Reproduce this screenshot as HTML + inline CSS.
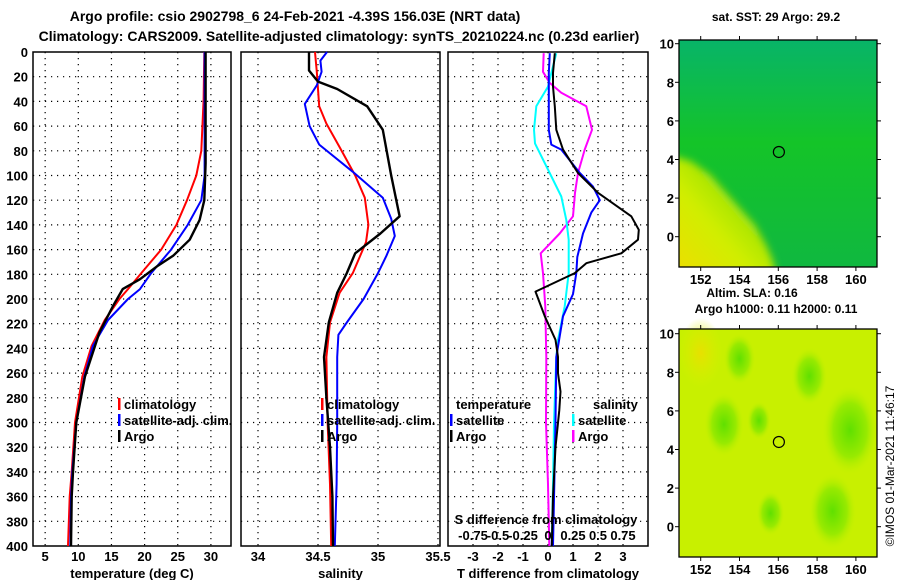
<!DOCTYPE html>
<html><head><meta charset="utf-8"><style>
body{margin:0;background:#fff}
svg{display:block;font-family:"Liberation Sans",sans-serif;font-weight:bold}
text{fill:#000}
</style></head><body>
<svg id="c" width="900" height="580" viewBox="0 0 900 580" xmlns="http://www.w3.org/2000/svg">
<defs>
<linearGradient id="m1base" x1="0" y1="0" x2="0" y2="1"><stop offset="0" stop-color="#08b468"/><stop offset="0.45" stop-color="#14c428"/><stop offset="1" stop-color="#10b840"/></linearGradient>
<linearGradient id="m1yel" x1="0" y1="1" x2="1" y2="0"><stop offset="0" stop-color="#f0dc00"/><stop offset="0.4" stop-color="#d0ee00"/><stop offset="0.8" stop-color="#80dc10"/><stop offset="1" stop-color="#40cc20"/></linearGradient>
<filter id="bl" x="-20%" y="-20%" width="140%" height="140%"><feGaussianBlur stdDeviation="4"/></filter>
<clipPath id="clip1"><rect x="679" y="40" width="198" height="227"/></clipPath>
<radialGradient id="blob"><stop offset="0" stop-color="#60e000"/><stop offset="0.6" stop-color="#98ea00"/><stop offset="1" stop-color="#c4f000" stop-opacity="0"/></radialGradient>
<radialGradient id="orng"><stop offset="0" stop-color="#e8e000"/><stop offset="1" stop-color="#d8f000" stop-opacity="0"/></radialGradient>
</defs>
<text x="295" y="21" font-size="14" text-anchor="middle">Argo profile: csio 2902798_6 24-Feb-2021 -4.39S 156.03E (NRT data)</text>
<text x="339" y="41" font-size="14" text-anchor="middle">Climatology: CARS2009. Satellite-adjusted climatology: synTS_20210224.nc (0.23d earlier)</text>
<g id="panels"></g>
<g id="maps"></g>
<text transform="translate(894,466) rotate(-90)" font-size="12" font-weight="normal" text-anchor="middle">©IMOS 01-Mar-2021 11:46:17</text>
</svg>
<script>
// ---- data (depth in m) ----
const tempDepth = [0,39,80,100,120,140,160,179,192,200,217,238,263,300,340,360,400];
const tempClim  = [29.0,28.9,28.55,27.8,26.4,24.8,22.5,19.5,17.5,16.2,14.0,12.0,10.6,9.5,9.0,8.7,8.45];
const tempSat   = [29.05,29.05,29.05,29.05,28.55,26.5,24.0,21.0,19.3,17.5,14.5,12.2,10.9,9.7,9.1,8.9,8.8];
const argoTDepth = [0,90,120,136,152,165,173,184,192,206,227,263,300,340,360,400];
const tempArgo  = [29.2,29.2,29.0,28.3,26.8,24.3,22.0,19.3,16.7,15.2,13.2,11.0,9.7,9.2,9.0,8.9];

const salClimDepth = [0,16,44,58,77,100,118,140,154,179,195,219,247,300,350,400];
const salClim = [34.475,34.49,34.51,34.57,34.68,34.81,34.89,34.92,34.90,34.79,34.68,34.60,34.57,34.58,34.60,34.61];
const salSatDepth = [0,7,16,27,42,60,75,97,118,135,149,165,179,200,219,229,247,300,350,400];
const salSat = [34.575,34.52,34.53,34.49,34.39,34.43,34.51,34.79,35.04,35.11,35.14,35.07,35.00,34.88,34.74,34.67,34.66,34.66,34.655,34.64];
const salArgoDepth = [0,15,24,30,44,63,100,133,147,163,179,195,219,247,280,320,360,400];
const salArgo = [34.425,34.425,34.50,34.66,34.91,35.04,35.11,35.18,35.02,34.81,34.74,34.66,34.59,34.55,34.57,34.60,34.62,34.625];

const diffDepth = [1,17,28,44,63,79,98,114,133,144,152,163,171,179,194,214,233,247,260,275,290,320,360,400];
const dTArgo = [0.27,0.2,0.2,0.27,0.33,0.6,1.2,2.0,3.33,3.63,3.6,2.93,1.53,1.07,-0.5,-0.13,0.3,0.4,0.4,0.5,0.45,0.3,0.2,0.15];
const dTSatDepth = [1,17,44,63,75,79,98,109,120,130,147,166,179,196,214,247,300,350,400];
const dTSat = [0.07,0.03,0.03,0.03,0.13,0.53,1.27,1.8,2.07,1.73,1.4,1.17,1.13,1.0,0.6,0.33,0.3,0.25,0.2];
const dSSatDepth = [1,17,28,44,63,74,98,117,136,152,179,206,233,247,300,350,400];
const dSSat = [0.083,0.033,0.0,-0.117,-0.14,-0.13,0.017,0.133,0.183,0.207,0.207,0.167,0.1,0.083,0.06,0.05,0.037];
const dSArgoDepth = [1,16,25,33,44,63,79,98,114,133,147,163,179,206,247,300,350,400];
const dSArgo = [-0.043,-0.05,0.017,0.133,0.383,0.44,0.367,0.3,0.27,0.25,0.117,-0.073,-0.05,-0.027,-0.017,-0.02,0.0,0.013];

const depthTicks = [0,20,40,60,80,100,120,140,160,180,200,220,240,260,280,300,320,340,360,380,400];
const tTicks = [5,10,15,20,25,30];
const sTicks = [34,34.5,35,35.5];
const dTicks = [-3,-2,-1,0,1,2,3];
const sDiffLabels = ['-0.75','-0.5','-0.25','0','0.25','0.5','0.75'];

const NS='http://www.w3.org/2000/svg';
function mk(tag,attrs,parent){const e=document.createElementNS(NS,tag);for(const k in attrs)e.setAttribute(k,attrs[k]);parent.appendChild(e);return e;}
const top0=52, bot0=546;
const yS = d => top0 + d*(bot0-top0)/400;
const panels=document.getElementById('panels');

function panel(name,x0,x1,xs,xticks,xlabels,xtitle){
  const g=mk('g',{},panels);
  
  
  depthTicks.forEach(d=>{ if(d>0&&d<400){const l=mk('line',{x1:x0,x2:x1,y1:yS(d),y2:yS(d),stroke:'#000','stroke-width':1.2,'stroke-dasharray':'1.2 4.8'},g);
    
    }});
  xticks.forEach((t,i)=>{const x=xs(t);
    if(x>x0+1&&x<x1-1){const l=mk('line',{x1:x,x2:x,y1:top0,y2:bot0,stroke:'#000','stroke-width':1.2,'stroke-dasharray':'1.2 4.8'},g);
      
      }
    const tx=mk('text',{x:x,y:561,'font-size':13,'text-anchor':'middle'},g);tx.textContent=xlabels[i];
    
    
  });
  const t=mk('text',{x:(x0+x1)/2,y:578,'font-size':13,'text-anchor':'middle'},g);t.textContent=xtitle;
  
  
  const r=mk('rect',{x:x0,y:top0,width:x1-x0,height:bot0-top0,fill:'none',stroke:'#000','stroke-width':1.5},g);
  
  
  return g;
}
function line(g,name,xs,vals,depths,color,w){
  const p=vals.map((v,i)=>(i?'L':'M')+xs(v).toFixed(1)+' '+yS(depths[i]).toFixed(1)).join(' ');
  const e=mk('path',{d:p,fill:'none',stroke:color,'stroke-width':w,'stroke-linejoin':'round'},g);
  
  
}
function legend(g,x,y,color,label,name){
  if(color){const b=mk('rect',{x:x-6,y:y-6,width:2.5,height:12,fill:color},g);
    
    }
  const t=mk('text',{x:x,y:y+5,'font-size':13},g);t.textContent=label;
  
  
}
const yg=mk('g',{},panels);


depthTicks.forEach(d=>{const t=mk('text',{x:28,y:yS(d)+5,'font-size':13,'text-anchor':'end'},yg);t.textContent=d;
  
  });

const xT = v => 12 + 6.63*v;
const g1=panel('temperature-panel',33,231,xT,tTicks,tTicks.map(String),'temperature (deg C)');
line(g1,'temp-climatology-line',xT,tempClim,tempDepth,'#f00',2);
line(g1,'temp-satellite-line',xT,tempSat,tempDepth,'#00f',2);
line(g1,'temp-argo-line',xT,tempArgo,argoTDepth,'#000',2.4);
legend(g1,124,404,'#f00','climatology','legend-climatology');
legend(g1,124,420,'#00f','satellite-adj. clim.','legend-satellite');
legend(g1,124,436,'#000','Argo','legend-argo');

const xS = v => 258 + 120*(v-34);
const g2=panel('salinity-panel',241,440,xS,sTicks,['34','34.5','35','35.5'],'salinity');
line(g2,'sal-climatology-line',xS,salClim,salClimDepth,'#f00',2);
line(g2,'sal-satellite-line',xS,salSat,salSatDepth,'#00f',2);
line(g2,'sal-argo-line',xS,salArgo,salArgoDepth,'#000',2.4);
legend(g2,327,404,'#f00','climatology','legend-climatology');
legend(g2,327,420,'#00f','satellite-adj. clim.','legend-satellite');
legend(g2,327,436,'#000','Argo','legend-argo');

const xD = v => 548 + 25*v;
const xDS = v => 548 + 100*v;
const g3=panel('difference-panel',448,648,xD,dTicks,dTicks.map(String),'T difference from climatology');
line(g3,'salt-diff-argo-line',xDS,dSArgo,dSArgoDepth,'#f0f',2);
line(g3,'salt-diff-satellite-line',xDS,dSSat,dSSatDepth,'#0ff',2);
line(g3,'temp-diff-satellite-line',xD,dTSat,dTSatDepth,'#00f',2);
line(g3,'temp-diff-argo-line',xD,dTArgo,diffDepth,'#000',2);
legend(g3,456,404,null,'temperature','legend-temperature-heading');
legend(g3,456,420,'#00f','satellite','legend-temp-satellite');
legend(g3,456,436,'#000','Argo','legend-temp-argo');
legend(g3,593,404,null,'salinity','legend-salinity-heading');
legend(g3,578,420,'#0ff','satellite','legend-sal-satellite');
legend(g3,578,436,'#f0f','Argo','legend-sal-argo');
const st=mk('text',{x:546,y:524,'font-size':13,'text-anchor':'middle'},g3);st.textContent='S difference from climatology';


sDiffLabels.forEach((s,i)=>{const t=mk('text',{x:473+25*i,y:540,'font-size':13,'text-anchor':'middle'},g3);t.textContent=s;
  
  });

// ---- maps ----
const lonTicks=[152,154,156,158,160];
const latTicks=[0,2,4,6,8,10];
const argoLon=156.03, argoLat=4.39;
const warmLon=[150.5,151.5,152.5,153.2,154,154.8,155.4,155.7,155.9,150.5];
const warmLat=[4.2,3.9,3.2,2.4,1.5,0.6,-0.5,-1.2,-2,-2];
const maps=document.getElementById('maps');
function map(name,top,bottom,kind){
  const g=mk('g',{},maps);
  
  
  const x0=679,x1=877;
  const lx=v=>700.7+19.4*(v-152);
  const lyy=v=>(bottom-30.3) - 19.3*v;
  const bg=mk('rect',{x:x0,y:top,width:x1-x0,height:bottom-top,fill:kind==1?'url(#m1base)':'#c8f000'},g);
  
  
  if(kind==1){
    const cg=mk('g',{'clip-path':'url(#clip1)'},g);
    const pts=warmLon.map((v,i)=>lx(v).toFixed(1)+','+lyy(warmLat[i]).toFixed(1)).join(' ');
    const y=mk('polygon',{points:pts,fill:'url(#m1yel)',filter:'url(#bl)'},cg);
    
    
  } else {
    [[152,9,22,'url(#orng)'],[154,8.7,16,'url(#blob)'],[153.2,5.3,20,'url(#blob)'],[157.6,7.8,18,'url(#blob)'],[159.7,5,28,'url(#blob)'],[155.6,0.7,14,'url(#blob)'],[158.8,0.8,24,'url(#blob)'],[155,5.5,12,'url(#blob)']].forEach(b=>{
      const e=mk('ellipse',{cx:lx(b[0]),cy:lyy(b[1]),rx:b[2],ry:b[2]*1.6,fill:b[3]},g);
      
      
    });
  }
  const fr=mk('rect',{x:x0,y:top,width:x1-x0,height:bottom-top,fill:'none',stroke:'#000','stroke-width':1.3},g);
  
  
  lonTicks.forEach(v=>{const x=lx(v);
    mk('line',{x1:x,x2:x,y1:top,y2:top-4,stroke:'#000'},g);mk('line',{x1:x,x2:x,y1:bottom,y2:bottom+4,stroke:'#000'},g);
    const t=mk('text',{x:x,y:bottom+17,'font-size':13,'text-anchor':'middle'},g);t.textContent=v;
    
    });
  latTicks.forEach(v=>{const y=lyy(v);
    mk('line',{x1:x0,x2:x0-4,y1:y,y2:y,stroke:'#000'},g);mk('line',{x1:x1,x2:x1+4,y1:y,y2:y,stroke:'#000'},g);
    const t=mk('text',{x:674,y:y+5,'font-size':13,'text-anchor':'end'},g);t.textContent=v;
    
    });
  const c=mk('circle',{cx:lx(argoLon),cy:lyy(argoLat),r:5.5,fill:'none',stroke:'#000','stroke-width':1.2},g);
  
  
}
map('sst-map',40,267,1);
map('sla-map',329,557,2);
[['sst-map-title',776,21,'sat. SST: 29 Argo: 29.2'],['altim-sla-label',752,297,'Altim. SLA: 0.16'],['argo-height-label',776,313,'Argo h1000: 0.11 h2000: 0.11']].forEach(a=>{
  const t=mk('text',{x:a[1],y:a[2],'font-size':12,'text-anchor':'middle'},maps);t.textContent=a[3];
  
  
});
</script>
</body></html>
